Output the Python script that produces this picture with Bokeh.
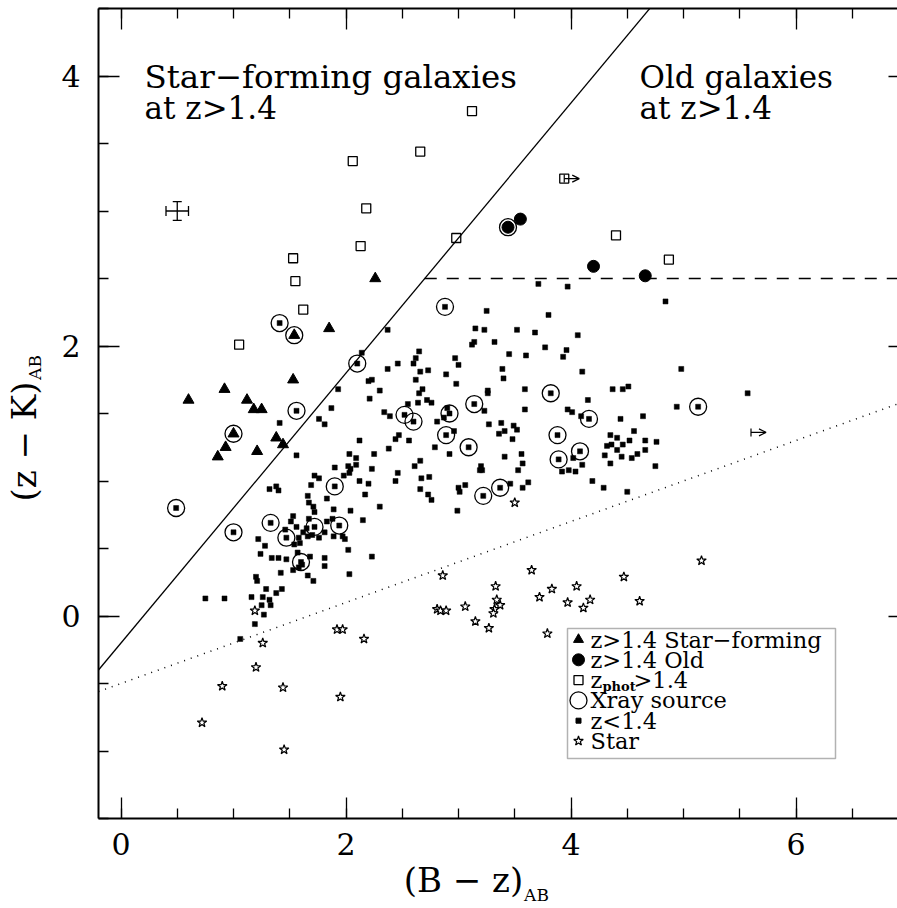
import math
from bokeh.plotting import figure
from bokeh.models import (Range1d, LinearAxis, SingleIntervalTicker, FixedTicker, Label, BoxAnnotation,
                          ColumnDataSource, Whisker, TeeHead, Arrow, OpenHead, Grid, CustomJSTickFormatter)
from bokeh.embed import file_html
from bokeh.resources import INLINE

# ---------------- data ----------------
SF_X = [2.26, 1.54, 1.85, 1.53, 0.92, 0.60, 1.12, 1.18, 1.25, 1.00, 0.93, 0.86, 1.21, 1.38, 1.44]
SF_Y = [2.50, 2.08, 2.13, 1.75, 1.68, 1.60, 1.60, 1.53, 1.53, 1.35, 1.25, 1.18, 1.22, 1.32, 1.27]

OLD_X = [3.44, 3.55, 4.20, 4.66]
OLD_Y = [2.88, 2.94, 2.59, 2.52]

PHOT_X = [3.12, 2.66, 2.06, 2.18, 2.13, 2.98, 3.94, 4.40, 4.87, 1.53, 1.55, 1.62, 1.05]
PHOT_Y = [3.74, 3.44, 3.37, 3.02, 2.74, 2.80, 3.24, 2.82, 2.64, 2.65, 2.48, 2.27, 2.01]

XRAY_X = [1.41, 1.54, 1.56, 1.00, 3.44, 2.88, 2.10, 2.52, 2.60, 2.92, 3.14, 2.89, 3.09, 3.82, 4.16,
          3.88, 4.08, 5.13, 3.89, 0.49, 1.00, 1.33, 1.47, 1.72, 1.60, 1.90, 1.94, 3.22, 3.37]
XRAY_Y = [2.17, 2.08, 1.52, 1.35, 2.88, 2.29, 1.87, 1.49, 1.44, 1.50, 1.57, 1.34, 1.25, 1.65, 1.46,
          1.34, 1.22, 1.55, 1.16, 0.80, 0.62, 0.69, 0.58, 0.66, 0.40, 0.96, 0.67, 0.89, 0.95]

LOWZ_X = [
    # x-ray detected z<1.4
    1.41, 1.56, 2.88, 2.10, 2.52, 2.60, 2.92, 3.14, 2.89, 3.09, 3.82, 4.16, 3.88, 4.08, 5.13, 3.89,
    0.49, 1.00, 1.33, 1.47, 1.72, 1.60, 1.90, 1.94, 3.22, 3.37,
    # right cluster
    3.71, 3.97, 4.84, 4.98, 4.37, 4.46, 4.51, 5.57, 4.94, 4.44, 4.64,
    3.80, 3.52, 3.68, 4.06, 3.77, 3.96, 3.93, 3.60, 3.45, 4.10, 3.59, 4.15, 3.59, 3.97, 4.01, 4.09,
    3.49, 3.52, 3.48, 4.56, 4.35, 4.41, 4.52, 4.66, 4.76, 4.36, 4.46, 4.32, 4.41, 4.66, 3.56, 4.30,
    4.45, 4.54, 4.59, 4.02, 3.92, 3.98, 4.04, 4.10, 4.35, 4.75, 4.19, 4.29, 4.50, 3.57, 3.53, 3.46,
    3.62, 3.57,
    # middle cluster
    3.25, 3.15, 3.23, 3.32, 3.12, 3.14, 2.37, 2.14, 2.65, 2.62, 2.46, 2.60, 2.97, 3.00, 2.37, 2.73,
    2.66, 2.89, 3.39, 3.40, 2.62, 2.23, 2.20, 2.98, 1.93, 2.30, 2.68, 2.65, 3.26, 3.26, 2.21, 2.72,
    2.76, 2.64, 2.55, 1.87, 2.34, 2.39, 2.90, 2.87, 3.23, 2.81, 2.96, 3.38, 3.27, 3.41, 3.36, 2.47,
    2.44, 2.56, 2.12, 2.38, 2.79, 2.03, 2.09, 2.25, 2.92, 3.41, 2.66,
    1.41, 1.76, 1.81, 1.56,
    # lower middle
    1.90, 2.02, 2.04, 2.03, 2.09, 2.23, 1.98, 2.46, 2.61, 2.12, 2.20, 2.44, 2.67, 2.74, 2.66, 2.73,
    2.76, 2.17, 2.30, 2.04, 1.89, 1.88, 2.15, 1.89, 1.97, 1.99, 2.02, 2.23, 2.03, 3.00, 3.01, 3.06,
    3.20, 3.21, 3.19, 2.99,
    # lower left
    0.75, 0.92, 1.16, 1.26, 1.32, 1.25, 1.33, 1.27, 1.19, 1.06, 1.20, 1.21, 1.29, 1.38, 1.43, 1.42,
    1.53, 1.66, 1.71, 1.81, 1.22, 1.28, 1.24, 1.34, 1.40, 1.47, 1.57, 1.68, 1.81, 1.61, 1.58, 1.32,
    1.38, 1.40, 1.72, 1.76, 1.69, 1.83, 1.66, 1.67, 1.71, 1.72, 1.53, 1.51, 1.56, 1.67, 1.83, 1.65,
    1.70, 1.76, 1.46, 1.58, 1.62, 1.66, 1.54, 1.59, 1.81,
]
LOWZ_Y = [
    2.17, 1.52, 2.29, 1.87, 1.49, 1.44, 1.50, 1.57, 1.34, 1.25, 1.65, 1.46, 1.34, 1.22, 1.55, 1.16,
    0.80, 0.62, 0.69, 0.58, 0.66, 0.40, 0.96, 0.67, 0.89, 0.95,
    2.46, 2.44, 2.33, 1.83, 1.68, 1.68, 1.70, 1.65, 1.55, 1.46, 1.48,
    2.23, 2.12, 2.10, 2.08, 1.99, 1.97, 1.92, 1.93, 1.94, 1.81, 1.68, 1.60, 1.53, 1.53, 1.51, 1.48,
    1.41, 1.38, 1.31, 1.37, 1.34, 1.32, 1.30, 1.30, 1.29, 1.27, 1.27, 1.26, 1.23, 1.23, 1.20, 1.19,
    1.18, 1.17, 1.20, 1.17, 1.07, 1.08, 1.07, 1.12, 1.13, 1.11, 1.00, 0.95, 0.92, 1.13, 1.08, 0.98,
    0.99, 0.95,
    2.26, 2.13, 2.12, 2.03, 2.01, 2.03, 2.12, 1.95, 1.96, 1.91, 1.87, 1.87, 1.91, 1.86, 1.83, 1.82,
    1.81, 1.79, 1.83, 1.76, 1.75, 1.75, 1.74, 1.72, 1.68, 1.67, 1.68, 1.65, 1.67, 1.65, 1.61, 1.60,
    1.58, 1.58, 1.57, 1.54, 1.51, 1.48, 1.54, 1.47, 1.52, 1.44, 1.37, 1.43, 1.42, 1.37, 1.35, 1.34,
    1.31, 1.30, 1.30, 1.24, 1.25, 1.20, 1.17, 1.20, 1.20, 1.18, 1.15,
    1.43, 1.46, 1.42, 1.19,
    1.10, 1.11, 1.09, 1.06, 1.12, 1.09, 1.04, 1.06, 1.11, 1.00, 0.98, 1.00, 1.02, 1.03, 0.94, 0.90,
    0.86, 0.90, 0.81, 0.78, 0.79, 0.72, 0.71, 0.59, 0.59, 0.57, 0.49, 0.44, 0.31, 0.95, 0.92, 0.97,
    1.11, 1.08, 1.08, 0.78,
    0.13, 0.13, 0.14, 0.14, 0.12, 0.08, 0.08, 0.01, -0.06, -0.17, 0.29, 0.26, 0.20, 0.17, 0.20, 0.32,
    0.34, 0.30, 0.26, 0.37, 0.57, 0.52, 0.46, 0.43, 0.43, 0.42, 0.47, 0.44, 0.43, 0.38, 0.36, 0.94,
    0.96, 0.93, 1.04, 1.02, 0.97, 0.87, 0.89, 0.84, 0.81, 0.77, 0.74, 0.70, 0.66, 0.72, 0.70, 0.65,
    0.60, 0.58, 0.64, 0.58, 0.62, 0.59, 0.53, 0.54, 0.62,
]

STAR_X = [3.50, 3.65, 3.83, 3.72, 4.05, 3.97, 4.17, 4.11, 4.47, 4.61, 5.16, 2.86, 3.33, 3.34, 3.37,
          3.32, 3.31, 2.81, 2.84, 2.89, 3.06, 3.15, 3.27, 3.79, 1.19, 1.92, 1.97, 2.16, 1.26, 1.20,
          0.90, 1.44, 1.95, 0.72, 1.45]
STAR_Y = [0.84, 0.34, 0.20, 0.14, 0.22, 0.10, 0.12, 0.06, 0.29, 0.11, 0.41, 0.30, 0.22, 0.12, 0.08,
          0.05, 0.02, 0.05, 0.04, 0.04, 0.07, -0.04, -0.09, -0.13, 0.04, -0.10, -0.10, -0.17, -0.20, -0.38,
          -0.52, -0.53, -0.60, -0.79, -0.99]

# lower limits in (B - z)
LIMIT_X = [3.94, 5.60]
LIMIT_Y = [3.24, 1.36]

# typical error
ERR_X, ERR_Y, ERR_DX, ERR_DY = [0.5], [3.0], 0.1, 0.07

# selection boundaries
BZK_SLOPE, BZK_ZERO = 1.0, -0.2
STAR_SLOPE, STAR_ZERO = 0.3, -0.5
OLD_CUT = 2.5

X_TITLE = "(B \u2212 z)"
Y_TITLE = "(z \u2212 K)"
SUB = "AB"

# ---------------- layout ----------------
W, H = 897, 908
FL, FT, FW, FH = 98, 8, 799, 810
X0, Y0, Y1 = -0.2, -1.5, 4.5
PXU = 112.5
X1 = X0 + FW / PXU
FONT = "DejaVu Serif"

def dx(px):
    return X0 + (px - FL) / PXU

def dy(py):
    return Y1 - (py - FT) * (Y1 - Y0) / FH

p = figure(width=W, height=H, x_range=Range1d(X0, X1), y_range=Range1d(Y0, Y1),
           output_backend="svg", toolbar_location=None,
           x_axis_location=None, y_axis_location=None,
           min_border_left=FL, min_border_right=0, min_border_top=FT, min_border_bottom=H - FT - FH)
p.outline_line_color = None
p.background_fill_color = "white"
p.border_fill_color = "white"
for g in list(p.center):
    if isinstance(g, Grid):
        g.visible = False


def mk_axis(labels=True, in_major=21, in_minor=10, minor=4, line=True):
    ax = LinearAxis(ticker=SingleIntervalTicker(interval=2, num_minor_ticks=minor))
    ax.major_tick_in = in_major
    ax.major_tick_out = 0
    ax.minor_tick_in = in_minor
    ax.minor_tick_out = 0
    ax.major_tick_line_color = "black"
    ax.minor_tick_line_color = "black" if in_minor else None
    ax.major_tick_line_width = 1.3
    ax.minor_tick_line_width = 1.3
    ax.axis_line_color = "black" if line else None
    ax.axis_line_width = 2
    if labels:
        ax.major_label_text_font = FONT
        ax.major_label_text_font_size = "30px"
        ax.major_label_text_color = "black"
    else:
        ax.major_label_text_font_size = "0px"
        ax.major_label_text_color = None
        ax.major_label_standoff = 0
    return ax


def title_axis(pos, text, size, standoff, vertical=False):
    ax = LinearAxis(ticker=FixedTicker(ticks=[pos], minor_ticks=[]),
                    formatter=CustomJSTickFormatter(args=dict(t=text), code="return t"))
    ax.major_tick_in = 0
    ax.major_tick_out = 0
    ax.minor_tick_in = 0
    ax.minor_tick_out = 0
    ax.major_tick_line_color = None
    ax.minor_tick_line_color = None
    ax.axis_line_color = None
    ax.major_label_text_font = FONT
    ax.major_label_text_font_size = size
    ax.major_label_text_color = "black"
    ax.major_label_standoff = standoff
    if vertical:
        ax.major_label_orientation = "vertical"
    return ax


xb = mk_axis()
xb.major_label_standoff = 14
yl = mk_axis()
yl.major_label_standoff = 18
xt = mk_axis(labels=False)
yr = mk_axis(labels=False, in_major=9, in_minor=0, minor=0, line=False)
p.add_layout(xb, "below")
p.add_layout(yl, "left")
p.add_layout(xt, "above")
p.add_layout(yr, "right")

# axis titles (text + subscript) as label-only axes stacked in the side panels
p.add_layout(title_axis(dx(463), X_TITLE, "34px", 2), "below")
p.add_layout(title_axis(dx(536), SUB, "17px", -18), "below")
p.add_layout(title_axis(dy(367), SUB, "17px", 14, vertical=True), "left")
p.add_layout(title_axis(dy(441), Y_TITLE, "34px", -22, vertical=True), "left")

# boundaries
bx = [X0, X1]
p.line(bx, [BZK_SLOPE * v + BZK_ZERO for v in bx], line_color="black", line_width=1.3)
p.line(bx, [STAR_SLOPE * v + STAR_ZERO for v in bx], line_color="black", line_width=1.5,
       line_dash="1 6")
x_cut = (OLD_CUT - BZK_ZERO) / BZK_SLOPE
p.line([x_cut, X1], [OLD_CUT, OLD_CUT], line_color="black", line_width=1.3, line_dash="12 10")

# points
p.scatter(LOWZ_X, LOWZ_Y, marker="square", size=5, fill_color="black", line_color="black", line_width=0.5)
p.scatter(STAR_X, STAR_Y, marker="star", size=10, fill_color="white", line_color="black", line_width=1.2)
p.scatter(PHOT_X, PHOT_Y, marker="square", size=9, fill_color=None, line_color="black", line_width=1.3)
p.scatter(SF_X, SF_Y, marker="triangle", size=11, fill_color="black", line_color="black")
p.scatter(OLD_X, OLD_Y, marker="circle", size=12, fill_color="black", line_color="black")
p.scatter(XRAY_X, XRAY_Y, marker="circle", size=17, fill_color=None, line_color="black", line_width=1.3)

# lower-limit arrows
ARROW_LEN = 15 / PXU
lim_src = ColumnDataSource(dict(x0=LIMIT_X, y0=LIMIT_Y, x1=[v + ARROW_LEN for v in LIMIT_X], y1=LIMIT_Y))
p.add_layout(Arrow(x_start="x0", y_start="y0", x_end="x1", y_end="y1", source=lim_src,
                   line_width=1.2, end=OpenHead(size=7, line_width=1.2)))
p.scatter(LIMIT_X, LIMIT_Y, marker="dash", angle=math.pi / 2, size=8, line_color="black", line_width=1.2)

# error bar
err_src = ColumnDataSource(dict(x=ERR_X, y=ERR_Y, xl=[v - ERR_DX for v in ERR_X], xu=[v + ERR_DX for v in ERR_X],
                                yl=[v - ERR_DY for v in ERR_Y], yu=[v + ERR_DY for v in ERR_Y]))
p.add_layout(Whisker(base="y", lower="xl", upper="xu", dimension="width", source=err_src, line_width=1.3,
                     upper_head=TeeHead(size=10, line_width=1.3), lower_head=TeeHead(size=10, line_width=1.3)))
p.add_layout(Whisker(base="x", lower="yl", upper="yu", dimension="height", source=err_src, line_width=1.3,
                     upper_head=TeeHead(size=9, line_width=1.3), lower_head=TeeHead(size=9, line_width=1.3)))


def lab(px, py, text, size="31px", align="left", baseline="alphabetic", style="normal"):
    p.add_layout(Label(x=dx(px), y=dy(py), text=text, text_font=FONT, text_font_size=size,
                       text_align=align, text_baseline=baseline, text_color="black",
                       text_font_style=style))

# region annotations
lab(144, 76, "Star\u2212forming galaxies", size="32.5px")
lab(144, 107, "at z>1.4")
lab(639, 76, "Old galaxies")
lab(639, 107, "at z>1.4")

# legend
LEG_L, LEG_T, LEG_R, LEG_B = 567, 628, 835, 758
p.add_layout(BoxAnnotation(left=dx(LEG_L), right=dx(LEG_R), top=dy(LEG_T), bottom=dy(LEG_B),
                           fill_color=None, line_color="black", line_width=1.5, level="overlay"))
rows = [639 + 20.3 * i for i in range(6)]
mx = dx(578)
p.scatter([mx], [dy(rows[0])], marker="triangle", size=10, fill_color="black", line_color="black")
p.scatter([mx], [dy(rows[1])], marker="circle", size=12, fill_color="black", line_color="black")
p.scatter([mx], [dy(rows[2])], marker="square", size=9, fill_color=None, line_color="black", line_width=1.3)
p.scatter([mx], [dy(rows[3])], marker="circle", size=17, fill_color=None, line_color="black", line_width=1.3)
p.scatter([mx], [dy(rows[4])], marker="square", size=5, fill_color="black", line_color="black")
p.scatter([mx], [dy(rows[5])], marker="star", size=10, fill_color="white", line_color="black", line_width=1.2)
tx = 590
LS = "22.5px"
lab(tx, rows[0], "z>1.4 Star\u2212forming", size=LS, baseline="middle")
lab(tx, rows[1], "z>1.4 Old", size=LS, baseline="middle")
lab(tx, rows[2], "z", size=LS, baseline="middle")
lab(tx + 12, rows[2] + 6, "phot", size="13px", baseline="middle", style="bold")
lab(tx + 43, rows[2], ">1.4", size=LS, baseline="middle")
lab(tx, rows[3], "Xray source", size=LS, baseline="middle")
lab(tx, rows[4], "z<1.4", size=LS, baseline="middle")
lab(tx, rows[5], "Star", size=LS, baseline="middle")

open("out.html", "w").write(file_html(p, INLINE))
